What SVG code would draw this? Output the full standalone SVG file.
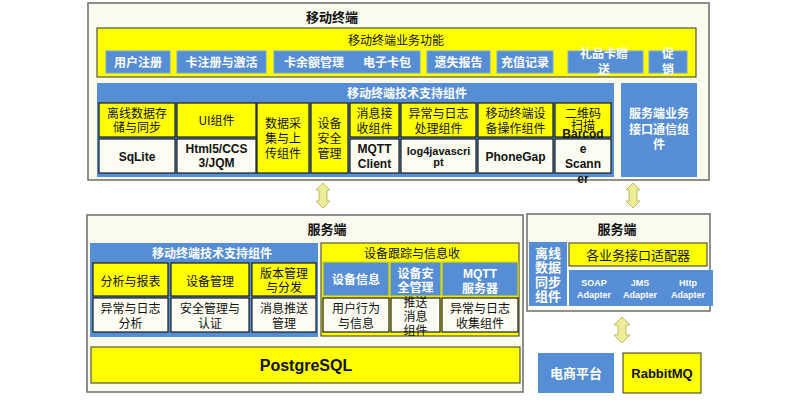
<svg xmlns="http://www.w3.org/2000/svg" width="800" height="400" viewBox="0 0 800 400">
<defs>
<style>
.outer{fill:#FAFAEE;stroke:#6B6B6B;stroke-width:1.5}
.yel{fill:#FFFF00;stroke:#333;stroke-width:1}
.blue{fill:#558ED5}
.btn{fill:#558ED5;stroke:#7AA6E0;stroke-width:1}
.cy{fill:#FFFF00;stroke:#1B1B1B;stroke-width:1.2}
.cc{fill:#FCFCF2;stroke:#1B1B1B;stroke-width:1.2}
.cb{fill:#558ED5;stroke:#D8D800;stroke-width:1.2}
.t{font-family:"Noto Sans CJK SC","Liberation Sans",sans-serif;font-size:12px;text-anchor:middle;fill:#111}
.l{font-family:"Liberation Sans","Noto Sans CJK SC",sans-serif;font-weight:bold;font-size:12px;text-anchor:middle;fill:#111}
.w{fill:#fff}
.b{font-weight:bold}
.arr{fill:#EDED98;stroke:#BDBD62;stroke-width:1}
</style>
</defs>

<g id="mobile">
<rect class="outer" x="88" y="3" width="621" height="177"/>
<text class="t b" x="332" y="22" style="font-size:13px">移动终端</text>
</g>

<g id="mobile-business">
<rect class="yel" x="97" y="28" width="599" height="49"/>
<text class="t" x="396" y="44.5">移动终端业务功能</text>
<rect class="btn" x="106" y="51" width="64" height="22"/>
<text class="t w b" x="138" y="66.5">用户注册</text>
<rect class="btn" x="177" y="51" width="89" height="22"/>
<text class="t w b" x="221.5" y="66.5">卡注册与激活</text>
<rect class="btn" x="274" y="51" width="146" height="22"/>
<text class="t w b" x="314" y="66.5">卡余额管理</text>
<text class="t w b" x="387" y="66.5">电子卡包</text>
<rect class="btn" x="427" y="51" width="63" height="22"/>
<text class="t w b" x="458.5" y="66.5">遗失报告</text>
<rect class="btn" x="497" y="51" width="56" height="22"/>
<text class="t w b" x="525" y="66.5">充值记录</text>
<rect class="btn" x="568" y="51" width="75" height="22"/>
<text class="t w b" x="604" y="57.5">礼品卡赠</text>
<text class="t w b" x="604" y="73.5">送</text>
<rect class="btn" x="649" y="51" width="38" height="22"/>
<text class="t w b" x="668" y="57.5">促</text>
<text class="t w b" x="668" y="73.5">销</text>
</g>

<g id="mobile-tech">
<rect class="blue" x="97" y="83" width="517" height="94"/>
<text class="t w b" x="347" y="97.5" style="text-anchor:start">移动终端技术支持组件</text>
<rect class="cy" x="99" y="103" width="76" height="34"/>
<text class="t" x="137" y="117.5">离线数据存</text>
<text class="t" x="137" y="131.5">储与同步</text>
<rect class="cc" x="99" y="139" width="76" height="34"/>
<text class="l" x="137" y="160.5">SqLite</text>
<rect class="cy" x="177" y="103" width="79" height="34"/>
<text class="t" x="216.5" y="124.5">UI组件</text>
<rect class="cc" x="177" y="139" width="79" height="34"/>
<text class="l" x="216.5" y="152.5">Html5/CCS</text>
<text class="l" x="216.5" y="166.5">3/JQM</text>
<rect class="cy" x="257" y="103" width="52" height="70"/>
<text class="t" x="283" y="127.5">数据采</text>
<text class="t" x="283" y="142.5">集与上</text>
<text class="t" x="283" y="157.5">传组件</text>
<rect class="cy" x="311" y="103" width="37" height="70"/>
<text class="t" x="329.5" y="127.5">设备</text>
<text class="t" x="329.5" y="142.5">安全</text>
<text class="t" x="329.5" y="157.5">管理</text>
<rect class="cy" x="350" y="103" width="49" height="34"/>
<text class="t" x="374.5" y="117.5">消息接</text>
<text class="t" x="374.5" y="132.5">收组件</text>
<rect class="cc" x="350" y="139" width="49" height="34"/>
<text class="l" x="374.5" y="152.5">MQTT</text>
<text class="l" x="374.5" y="167.5">Client</text>
<rect class="cy" x="401" y="103" width="75" height="34"/>
<text class="t" x="438.5" y="117.5">异常与日志</text>
<text class="t" x="438.5" y="132.5">处理组件</text>
<rect class="cc" x="401" y="139" width="75" height="34"/>
<text class="l" x="438.5" y="155" style="font-size:11px">log4javascri</text>
<text class="l" x="438.5" y="166" style="font-size:11px">pt</text>
<rect class="cy" x="478" y="103" width="75" height="34"/>
<text class="t" x="515.5" y="117.5">移动终端设</text>
<text class="t" x="515.5" y="132.5">备操作组件</text>
<rect class="cc" x="478" y="139" width="75" height="34"/>
<text class="l" x="515.5" y="160.5">PhoneGap</text>
<rect class="cy" x="555" y="103" width="56" height="34"/>
<text class="t" x="583" y="117.5">二维码</text>
<text class="t" x="583" y="129.5">扫描</text>
<rect class="cc" x="555" y="139" width="56" height="34"/>
<text class="l" x="583" y="137.5">Barcod</text>
<text class="l" x="583" y="152.5">e</text>
<text class="l" x="583" y="167.5">Scann</text>
<text class="l" x="583" y="182.5">er</text>
</g>

<g id="mobile-comm">
<rect class="blue" x="621" y="83" width="76" height="94"/>
<text class="t w b" x="659" y="117.5">服务端业务</text>
<text class="t w b" x="659" y="134">接口通信组</text>
<text class="t w b" x="659" y="149">件</text>
</g>

<g id="server">
<rect class="outer" x="87" y="215" width="436" height="177"/>
<text class="t b" x="327" y="233.5" style="font-size:13px">服务端</text>
</g>

<g id="server-tech">
<rect class="blue" x="90" y="243" width="228" height="94"/>
<text class="t w b" x="212" y="257.5">移动终端技术支持组件</text>
<rect class="cy" x="93" y="263" width="75" height="33"/>
<text class="t" x="130.5" y="285.5">分析与报表</text>
<rect class="cc" x="93" y="298" width="75" height="34"/>
<text class="t" x="130.5" y="312.5">异常与日志</text>
<text class="t" x="130.5" y="327.5">分析</text>
<rect class="cy" x="171" y="263" width="78" height="33"/>
<text class="t" x="210" y="285.5">设备管理</text>
<rect class="cc" x="171" y="298" width="78" height="34"/>
<text class="t" x="210" y="312.5">安全管理与</text>
<text class="t" x="210" y="327.5">认证</text>
<rect class="cy" x="252" y="263" width="64" height="33"/>
<text class="t" x="284" y="277.5">版本管理</text>
<text class="t" x="284" y="291.5">与分发</text>
<rect class="cc" x="252" y="298" width="64" height="34"/>
<text class="t" x="284" y="312.5">消息推送</text>
<text class="t" x="284" y="327.5">管理</text>
</g>

<g id="server-device">
<rect class="yel" x="321" y="243" width="198" height="93"/>
<text class="t" x="412" y="257.5">设备跟踪与信息收</text>
<rect class="cb" x="323" y="262" width="66" height="34"/>
<text class="t w b" x="356" y="283.5">设备信息</text>
<rect class="cb" x="390" y="262" width="51" height="34"/>
<text class="t w b" x="415.5" y="277.5">设备安</text>
<text class="t w b" x="415.5" y="291.5">全管理</text>
<rect class="cb" x="442" y="262" width="76" height="34"/>
<text class="l w" x="480" y="277.5">MQTT</text>
<text class="t w b" x="480" y="292.5">服务器</text>
<rect class="cc" x="323" y="298" width="66" height="34"/>
<text class="t" x="356" y="312.5">用户行为</text>
<text class="t" x="356" y="327.5">与信息</text>
<rect class="cc" x="391" y="298" width="49" height="34"/>
<text class="t" x="415.5" y="306.5">推送</text>
<text class="t" x="415.5" y="320.5">消息</text>
<text class="t" x="415.5" y="334.5">组件</text>
<rect class="cc" x="442" y="298" width="76" height="34"/>
<text class="t" x="480" y="312.5">异常与日志</text>
<text class="t" x="480" y="327.5">收集组件</text>
</g>

<g id="postgresql">
<rect class="yel" x="91" y="347" width="429" height="36"/>
<text class="l" x="306" y="371" style="font-size:16px">PostgreSQL</text>
</g>

<g id="server-adapter">
<rect class="outer" x="527" y="214" width="183" height="97"/>
<text class="t b" x="617" y="233.5" style="font-size:13px">服务端</text>
<rect class="blue" x="529" y="242" width="38" height="64"/>
<text class="t w b" x="548" y="257.5" style="font-size:13px">离线</text>
<text class="t w b" x="548" y="271.5" style="font-size:13px">数据</text>
<text class="t w b" x="548" y="286.5" style="font-size:13px">同步</text>
<text class="t w b" x="548" y="300.5" style="font-size:13px">组件</text>
<rect class="yel" x="569" y="243" width="138" height="23"/>
<text class="t" x="638" y="259.5" style="font-size:13px">各业务接口适配器</text>
<rect class="blue" x="569" y="270" width="144" height="36"/>
<text class="l w" x="594" y="286" style="font-size:9px">SOAP</text>
<text class="l w" x="594" y="297.5" style="font-size:9px">Adapter</text>
<text class="l w" x="640" y="286" style="font-size:9px">JMS</text>
<text class="l w" x="640" y="297.5" style="font-size:9px">Adapter</text>
<text class="l w" x="688" y="286" style="font-size:9px">Http</text>
<text class="l w" x="688" y="297.5" style="font-size:9px">Adapter</text>
</g>

<g id="ecommerce">
<rect class="blue" x="538" y="353" width="76" height="40"/>
<text class="t w b" x="576" y="377.5" style="font-size:13px">电商平台</text>
</g>

<g id="rabbitmq">
<rect class="yel" x="623" y="353" width="78" height="40"/>
<text class="l" x="662" y="377.5" style="font-size:13px">RabbitMQ</text>
</g>

<g id="connectors">
<path class="arr" d="M323,183 L330,190 L327,190 L327,201 L330,201 L323,208 L316,201 L319,201 L319,190 L316,190 Z"/>
<path class="arr" d="M633,183 L640,190 L637,190 L637,201 L640,201 L633,208 L626,201 L629,201 L629,190 L626,190 Z"/>
<path class="arr" d="M622,317 L630,325 L626,325 L626,335 L630,335 L622,343 L614,335 L618,335 L618,325 L614,325 Z"/>
</g>
</svg>
